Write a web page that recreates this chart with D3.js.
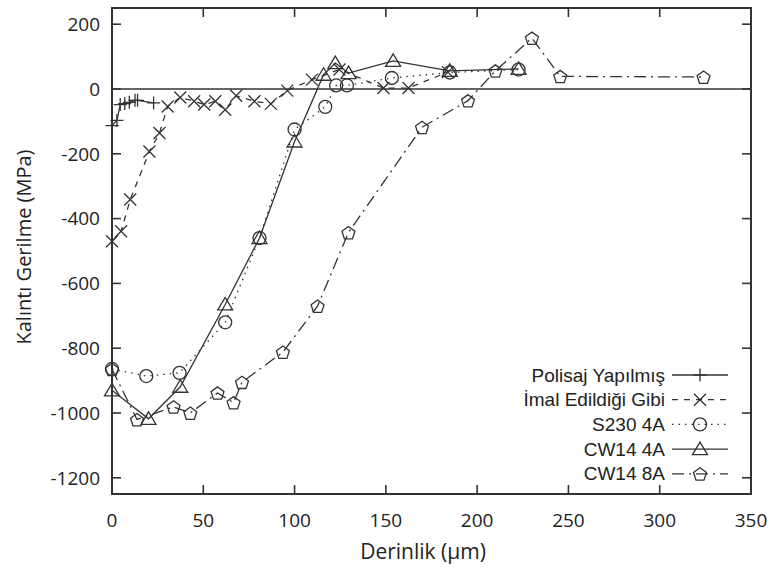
<!DOCTYPE html>
<html>
<head>
<meta charset="utf-8">
<script src="https://cdn.jsdelivr.net/npm/d3@7"></script>
<style>
  html, body { margin: 0; padding: 0; background: #fff; }
  svg { display: block; }
</style>
</head>
<body>
<svg id="chart" width="772" height="573"></svg>
<script>
// Residual stress vs depth for five surface conditions
const xTicks = [0, 50, 100, 150, 200, 250, 300, 350];
const yTicks = [-1200, -1000, -800, -600, -400, -200, 0, 200];

const seriesNames = ["Polisaj Yapılmış", "İmal Edildiği Gibi", "S230 4A", "CW14 4A", "CW14 8A"];

const depthPolisaj = [0, 2.7, 4.5, 7, 9.5, 12.6, 14, 22.8];
const stressPolisaj = [-113, -97, -48, -45, -41, -35, -35, -43];

const depthImal = [0, 5, 10, 20.5, 26, 30.5, 37.4, 45, 50.5, 56.6, 62, 68, 78, 87, 96, 109.5, 124.6, 148.7, 162.4, 184];
const stressImal = [-470, -439, -341, -193, -136, -54, -26, -38, -48, -38, -64, -21, -38, -46, -5, 29, 60, 3, 3, 52];

const depthS230 = [0, 18.8, 37, 62, 80.8, 100, 116.8, 122.8, 128.7, 153.3, 185, 222.7];
const stressS230 = [-864, -886, -876, -720, -460, -125, -55, 11, 11, 34, 51, 60];

const depthCW4 = [0, 20, 37.4, 62, 80.8, 100, 115.9, 122.3, 129.6, 154, 185, 222.7];
const stressCW4 = [-930, -1018, -919, -665, -460, -162, 44, 80, 49, 87, 56, 62];

const depthCW8 = [0, 13.7, 33.7, 42.9, 57.8, 66.6, 71.2, 93.6, 112.6, 129.5, 169.8, 195, 210, 230, 245.5, 324];
const stressCW8 = [-865, -1020, -981, -1000, -938, -968, -905, -812, -670, -443, -118, -36, 56, 157, 39, 37];

const ink = "#333";
const svg = d3.select("#chart");

const plotLeft = 112, plotRight = 751, plotTop = 8, plotBottom = 494;
const x = d3.scaleLinear().domain([0, 350]).range([plotLeft, plotRight]);
const y = d3.scaleLinear().domain([-1250, 250]).range([plotBottom, plotTop]);

// marker shapes (outline only)
function pentagon(r) {
  const pts = d3.range(5).map(i => {
    const a = -Math.PI / 2 + i * 2 * Math.PI / 5;
    return [r * Math.cos(a), r * Math.sin(a) + 0.8];
  });
  return "M" + pts.map(p => p.join(",")).join("L") + "Z";
}
const markers = {
  plus: "M-6.5,0H6.5M0,-6.5V6.5",
  times: "M-6,-6L6,6M-6,6L6,-6",
  circle: d3.symbol().type(d3.symbolCircle).size(Math.PI * 6.5 * 6.5)(),
  triangle: "M0,-7L7.5,5.5L-7.5,5.5Z",
  pentagon: pentagon(6.8)
};

const series = [
  { name: seriesNames[0], xs: depthPolisaj, ys: stressPolisaj, dash: null, marker: "plus" },
  { name: seriesNames[1], xs: depthImal, ys: stressImal, dash: "6,6", marker: "times" },
  { name: seriesNames[2], xs: depthS230, ys: stressS230, dash: "1.5,5", marker: "circle" },
  { name: seriesNames[3], xs: depthCW4, ys: stressCW4, dash: null, marker: "triangle" },
  { name: seriesNames[4], xs: depthCW8, ys: stressCW8, dash: "12,5,2,5", marker: "pentagon" }
];

// zero reference line
svg.append("line")
  .attr("x1", plotLeft).attr("x2", plotRight)
  .attr("y1", y(0)).attr("y2", y(0))
  .attr("stroke", ink).attr("stroke-width", 1.6);

// inward ticks on all four sides
const tickLen = 9;
const tickG = svg.append("g").attr("stroke", ink).attr("stroke-width", 1.6);
xTicks.slice(1, -1).forEach(t => {
  tickG.append("line").attr("x1", x(t)).attr("x2", x(t)).attr("y1", plotBottom).attr("y2", plotBottom - tickLen);
  tickG.append("line").attr("x1", x(t)).attr("x2", x(t)).attr("y1", plotTop).attr("y2", plotTop + tickLen);
});
yTicks.forEach(t => {
  tickG.append("line").attr("x1", plotLeft).attr("x2", plotLeft + tickLen).attr("y1", y(t)).attr("y2", y(t));
  tickG.append("line").attr("x1", plotRight).attr("x2", plotRight - tickLen).attr("y1", y(t)).attr("y2", y(t));
});

// tick labels
const font = "'Open Sans', sans-serif";
svg.append("g").selectAll("text").data(xTicks).join("text")
  .attr("x", d => x(d)).attr("y", 527)
  .attr("text-anchor", "middle")
  .attr("font-family", font).attr("font-size", 19).attr("fill", "#222")
  .text(d => d);
svg.append("g").selectAll("text").data(yTicks).join("text")
  .attr("x", 100).attr("y", d => y(d)).attr("dy", "0.36em")
  .attr("text-anchor", "end")
  .attr("font-family", font).attr("font-size", 19).attr("fill", "#222")
  .text(d => d);

// axis titles
svg.append("text")
  .attr("x", 423).attr("y", 559)
  .attr("text-anchor", "middle")
  .attr("font-family", font).attr("font-size", 21).attr("fill", "#222")
  .text("Derinlik (µm)");
svg.append("text")
  .attr("transform", "translate(31,247) rotate(-90)")
  .attr("text-anchor", "middle")
  .attr("font-family", font).attr("font-size", 20).attr("fill", "#222")
  .text("Kalıntı Gerilme (MPa)");

// series lines and markers
const line = d3.line().x(d => x(d[0])).y(d => y(d[1]));
series.forEach(s => {
  const pts = s.xs.map((v, i) => [v, s.ys[i]]);
  const g = svg.append("g");
  g.append("path")
    .attr("d", line(pts))
    .attr("fill", "none").attr("stroke", ink).attr("stroke-width", 1.3)
    .attr("stroke-dasharray", s.dash);
  g.selectAll("path.m").data(pts).join("path")
    .attr("class", "m")
    .attr("transform", d => `translate(${x(d[0])},${y(d[1])})`)
    .attr("d", markers[s.marker])
    .attr("fill", "none").attr("stroke", ink).attr("stroke-width", 1.3);
});

// legend
const legend = svg.append("g");
series.forEach((s, i) => {
  const cy = 375 + i * 24.7;
  legend.append("text")
    .attr("x", 665).attr("y", cy).attr("dy", "0.35em")
    .attr("text-anchor", "end")
    .attr("font-family", "'Liberation Sans', Arial, sans-serif").attr("font-size", 19).attr("fill", "#222")
    .text(s.name);
  legend.append("line")
    .attr("x1", 672).attr("x2", 728).attr("y1", cy).attr("y2", cy)
    .attr("stroke", ink).attr("stroke-width", 1.3)
    .attr("stroke-dasharray", s.dash);
  legend.append("path")
    .attr("transform", `translate(700,${cy})`)
    .attr("d", markers[s.marker])
    .attr("fill", "none").attr("stroke", ink).attr("stroke-width", 1.3);
});

// frame
svg.append("rect")
  .attr("x", plotLeft).attr("y", plotTop)
  .attr("width", plotRight - plotLeft).attr("height", plotBottom - plotTop)
  .attr("fill", "none").attr("stroke", ink).attr("stroke-width", 2);
</script>
</body>
</html>
